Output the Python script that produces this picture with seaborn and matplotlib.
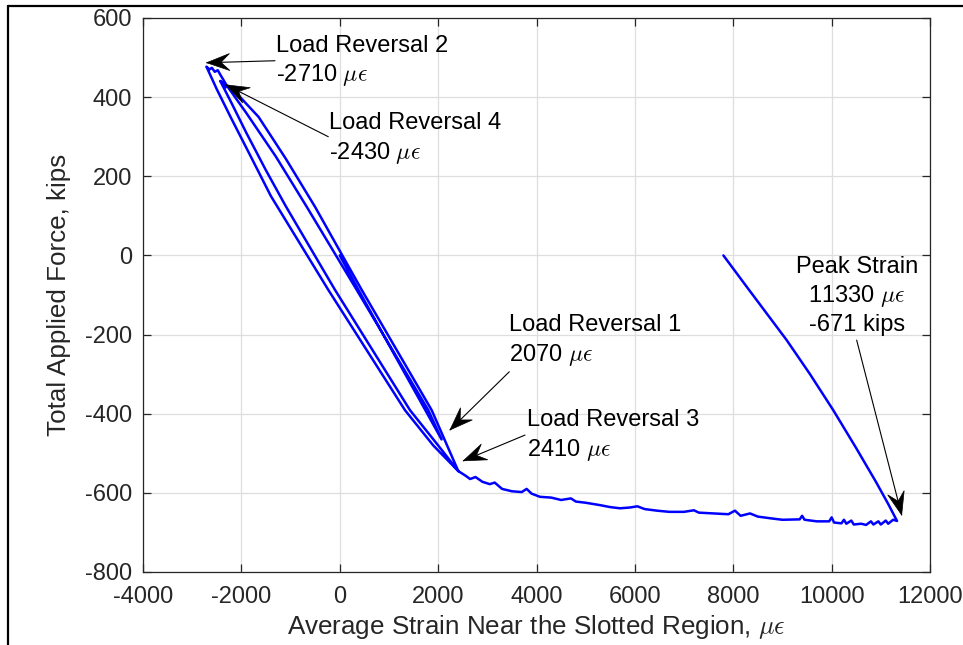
import numpy as np
import pandas as pd
import matplotlib
matplotlib.use("Agg")
import matplotlib.pyplot as plt
from matplotlib.lines import Line2D
from matplotlib.patches import Polygon
from matplotlib.transforms import IdentityTransform
import seaborn as sns

# Load history, branch by branch: strain (microstrain) and total force (kips)
initial_strain = [0, 380, 1000, 1740, 2070]
initial_force = [0, -87, -226, -391, -465]

unload1_strain = [2070, 1800, 344, -672, -1300, -1900, -2300, -2420, -2480, -2540, -2600, -2650, -2710]
unload1_force = [-465, -391, -87, 123, 250, 360, 430, 455, 468, 464, 474, 470, 477]

reload2_strain = [-2710, -2500, -2200, -1850, -1400, -233, 1326, 1900, 2410]
reload2_force = [477, 420, 345, 260, 150, -87, -391, -480, -545]

unload3_strain = [2410, 1869, 446, -503, -1100, -1650, -2100, -2200, -2260, -2320, -2380, -2430]
unload3_force = [-545, -391, -87, 123, 245, 350, 410, 418, 428, 425, 436, 441]

reload4_strain = [-2430, -2200, -1900, -1500, -1100, -97, 1428, 2000, 2410]
reload4_force = [441, 385, 310, 215, 125, -87, -391, -480, -545]

plateau_strain = [2550, 2650, 2760, 2900, 3050, 3150, 3300, 3500, 3700, 3800, 3900, 4070,
                  4300, 4500, 4700, 4800, 5000, 5290, 5500, 5697, 5900, 6050, 6200, 6450,
                  6700, 7000, 7200, 7300, 7600, 7900, 8035, 8150, 8340, 8500, 8800, 9000,
                  9350, 9400, 9450, 9700, 9950, 10000, 10050, 10200, 10250, 10300, 10400,
                  10450, 10600, 10700, 10800, 10850, 10950, 11000, 11100, 11150, 11250, 11330]
plateau_force = [-556, -565, -560, -572, -578, -574, -590, -596, -598, -590, -602, -610,
                 -612, -618, -614, -622, -625, -631, -636, -639, -637, -634, -641, -645,
                 -648, -648, -644, -650, -652, -654, -645, -658, -652, -660, -665, -668,
                 -667, -658, -668, -672, -672, -662, -675, -677, -668, -678, -670,
                 -680, -678, -681, -672, -680, -672, -680, -670, -678, -668, -671]

final_unload_strain = [11150, 10900, 10500, 10033, 9560, 9086, 8700, 8272, 7800]
final_unload_force = [-628, -572, -487, -391, -300, -214, -150, -79, 0]

branches = [
    (initial_strain, initial_force),
    (unload1_strain, unload1_force),
    (reload2_strain, reload2_force),
    (unload3_strain, unload3_force),
    (reload4_strain, reload4_force),
    (plateau_strain, plateau_force),
    (final_unload_strain, final_unload_force),
]
strain = np.concatenate([b[0] for b in branches])
force = np.concatenate([b[1] for b in branches])
df = pd.DataFrame({"strain": strain, "force": force})

x_ticks = [-4000, -2000, 0, 2000, 4000, 6000, 8000, 10000, 12000]
y_ticks = [-800, -600, -400, -200, 0, 200, 400, 600]

sns.set_theme(style="white")
plt.rcParams["font.family"] = ["Liberation Sans", "DejaVu Sans"]
plt.rcParams["mathtext.fontset"] = "cm"
plt.rcParams["axes.unicode_minus"] = False

fig = plt.figure(figsize=(9.63, 6.45), dpi=100)
ax = fig.add_axes([143 / 963, 1 - 572 / 645, (930 - 143) / 963, (572 - 18) / 645])

sns.lineplot(data=df, x="strain", y="force", sort=False, estimator=None,
             color=(0, 0, 1), linewidth=1.8, ax=ax)

ax.set_xlim(-4000, 12000)
ax.set_ylim(-800, 600)
ax.set_xticks(x_ticks)
ax.set_yticks(y_ticks)
ax.set_xticklabels([str(v) for v in x_ticks])
ax.set_yticklabels([str(v) for v in y_ticks])
ax.grid(True, color="#dedede", linewidth=0.9)
ax.set_axisbelow(True)
for s in ax.spines.values():
    s.set_color("#262626")
    s.set_linewidth(0.9)
    s.set_visible(True)
ax.tick_params(direction="in", length=6, width=0.9, color="#262626",
               labelsize=17, labelcolor="#262626",
               top=True, right=True, bottom=True, left=True)
ax.tick_params(axis="x", pad=10)
ax.tick_params(axis="y", pad=8)

ax.set_xlabel(r"Average Strain Near the Slotted Region, $\mu\epsilon$", fontsize=18.7,
              color="#262626", labelpad=4)
ax.set_ylabel("Total Applied Force, kips", fontsize=18.7, color="#262626", labelpad=10)


def text_arrow(tail, tip, label, x_text, y_text, ha="left"):
    """Thin shaft from tail to tip with a notched (vback) head, plus a label."""
    ax.annotate("", xy=tip, xytext=tail, annotation_clip=False,
                arrowprops=dict(arrowstyle="-", color="black", lw=0.8,
                                shrinkA=0, shrinkB=0))
    p0 = ax.transData.transform(tail)
    p1 = ax.transData.transform(tip)
    u = (p1 - p0) / np.hypot(*(p1 - p0))
    n = np.array([-u[1], u[0]])
    head_len, head_w = 23.0, 17.0
    pts = [p1,
           p1 - head_len * u + 0.5 * head_w * n,
           p1 - 0.62 * head_len * u,
           p1 - head_len * u - 0.5 * head_w * n]
    fig.add_artist(Polygon(pts, closed=True, facecolor="black", edgecolor="black",
                           lw=0.5, transform=IdentityTransform()))
    ax.text(x_text, y_text, label, fontsize=17, color="black", ha=ha, va="center",
            multialignment="center" if ha == "center" else "left",
            linespacing=1.28, clip_on=False)


text_arrow((-1317, 492), (-2705, 487), "Load Reversal 2\n-2710 $\\mu\\epsilon$", -1296, 490)
text_arrow((-233, 300), (-2313, 431), "Load Reversal 4\n-2430 $\\mu\\epsilon$", -219, 294)
text_arrow((3447, -294), (2241, -441), "Load Reversal 1\n2070 $\\mu\\epsilon$", 3441, -216)
text_arrow((3766, -454), (2512, -519), "Load Reversal 3\n2410 $\\mu\\epsilon$", 3807, -456)
text_arrow((10509, -214), (11424, -656), "Peak Strain\n11330 $\\mu\\epsilon$\n-671 kips",
           10515, -103, ha="center")

# outer frame, running off the right and bottom of the canvas
fig.add_artist(Line2D([8 / 963, 1.01], [1 - 6 / 645, 1 - 6 / 645], color="black", lw=1.6,
                      transform=fig.transFigure))
fig.add_artist(Line2D([8 / 963, 8 / 963], [1 - 6 / 645, -0.01], color="black", lw=1.6,
                      transform=fig.transFigure))

fig.savefig("out.png", dpi=100)
